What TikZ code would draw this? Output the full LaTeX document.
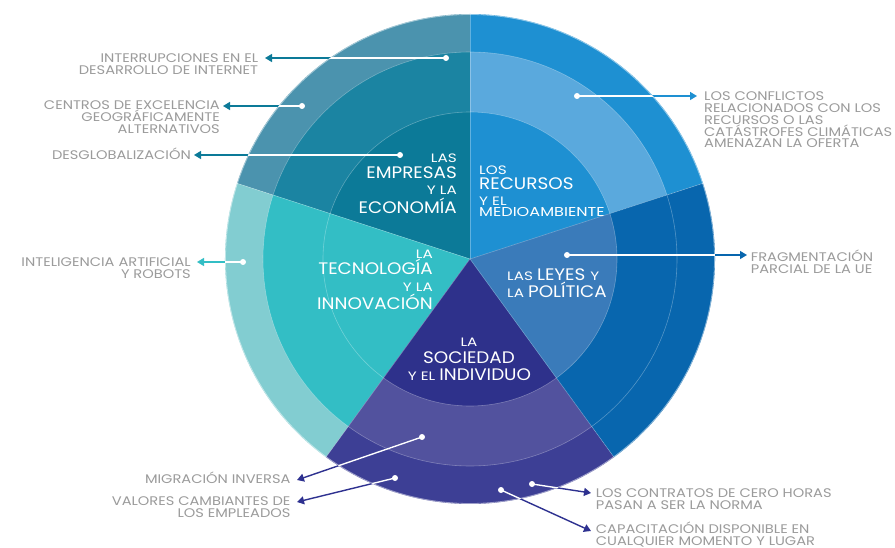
\documentclass[tikz,border=0pt]{standalone}
\usepackage{fontspec}
\setmainfont{Poppins}
\newfontfamily\lblfont[FakeStretch=1.17]{Poppins}
\newfontfamily\bigfont[FakeStretch=1.1]{Poppins}
\newfontfamily\smlfont[FakeStretch=1.25]{Poppins}
\usetikzlibrary{arrows.meta}
\definecolor{empA}{HTML}{0C7A98}
\definecolor{empB}{HTML}{1B84A2}
\definecolor{empC}{HTML}{4B93AE}
\definecolor{recA}{HTML}{1E90D2}
\definecolor{recB}{HTML}{5AA9DD}
\definecolor{leyA}{HTML}{3A7BBA}
\definecolor{leyB}{HTML}{0866AE}
\definecolor{socA}{HTML}{2E318B}
\definecolor{socB}{HTML}{52529E}
\definecolor{socC}{HTML}{3D3F95}
\definecolor{tecA}{HTML}{33BEC5}
\definecolor{tecC}{HTML}{82CDD1}
\definecolor{lblgray}{HTML}{9B9B9B}
\definecolor{arrNavy}{HTML}{2E3190}
\newcommand\rlines[1]{\vtop{\baselineskip=11.8pt\lineskiplimit=-50pt\lineskip=0pt\halign{\hfil##\cr#1\crcr}}}
\newcommand\llines[1]{\vtop{\baselineskip=11.8pt\lineskiplimit=-50pt\lineskip=0pt\halign{##\hfil\cr#1\crcr}}}
\newcommand\smf{\smlfont\fontsize{12.2}{13}\selectfont}
\newcommand\lgf{\bigfont\fontsize{16.7}{18}\selectfont}
\newcommand\sect[4]{\fill[#1] (0,0) -- (#2:#4) arc[start angle=#2,end angle=#3,radius=#4] -- cycle;}
\newcommand\conn[3]{%
  \draw[conn,#1] (#2) -- (#3);
  \begin{scope}\clip (C) circle[radius=245];\draw[white,line width=1.4pt] (#2) -- (#3);\end{scope}
  \fill[white] (#2) circle[radius=3];}
\begin{document}
\begin{tikzpicture}[x=1pt,y=1pt,
  lbl/.style={font=\lblfont\fontsize{12.5}{12}\selectfont, text=lblgray, inner sep=0pt},
  ctr/.style={text=white, inner sep=0pt},
  conn/.style={line width=1.4pt, -{Triangle[length=7pt,width=8pt]}},
  ring/.style={white, opacity=0.3, line width=0.6pt},
  rim/.style={white, opacity=0.5, line width=0.8pt}]
\fill[white] (0,0) rectangle (895,-548);
\useasboundingbox (0,0) rectangle (895,-548);
\coordinate (C) at (470,-259);
\begin{scope}[shift={(470,-259)}]
  \sect{empC}{90}{162}{245}\sect{empB}{90}{162}{207}\sect{empA}{90}{162}{147}
  \sect{recA}{18}{90}{245}\sect{recB}{18}{90}{207}\sect{recA}{18}{90}{147}
  \sect{tecC}{162}{234}{245}\sect{tecA}{162}{234}{207}
  \sect{socC}{234}{306}{245}\sect{socB}{234}{306}{207}\sect{socA}{234}{306}{147}
  \sect{leyB}{-54}{18}{245}\sect{leyA}{-54}{18}{147}
  \draw[ring] (0,0) circle[radius=147] (0,0) circle[radius=207];
  \foreach \a in {18,90,162,234,306} \draw[ring] (0,0) -- (\a:245);
  \draw[rim] (0,0) circle[radius=244.5];
\end{scope}
% centre labels
\node[ctr, anchor=base east] (e1) at (457,-162.7) {\smf LAS};
\node[ctr, anchor=base east] (e2) at (457,-179) {\lgf EMPRESAS};
\node[ctr, anchor=base east] (e3) at (457,-195) {\smf Y LA};
\node[ctr, anchor=base east] (e4) at (457,-213.3) {\lgf ECONOMÍA};
\node[ctr, anchor=base west] (r1) at (479,-175) {\smf LOS};
\node[ctr, anchor=base west] (r2) at (479,-190) {\lgf RECURSOS};
\node[ctr, anchor=base west] (r3) at (479,-205.5) {\smf Y EL};
\node[ctr, anchor=base west] (r4) at (479,-216.7) {\smlfont\fontsize{12.9}{14}\selectfont MEDIOAMBIENTE};
\node[ctr, anchor=base east] (t1) at (433,-258.3) {\smf LA};
\node[ctr, anchor=base east] (t2) at (433,-275) {\lgf TECNOLOGÍA};
\node[ctr, anchor=base east] (t3) at (433,-291.7) {\smf Y LA};
\node[ctr, anchor=base east] (t4) at (433,-309) {\lgf INNOVACIÓN};
\node[ctr, anchor=base west] (l1) at (507,-280.7) {\smf LAS \lgf LEYES \smf Y};
\node[ctr, anchor=base west] (l2) at (507,-297.3) {\smf LA \lgf POLÍTICA};
\node[ctr, anchor=base] (s1) at (469,-346) {\smf LA};
\node[ctr, anchor=base] (s2) at (469,-363.3) {\lgf SOCIEDAD};
\node[ctr, anchor=base] (s3) at (469.5,-380) {\smf Y EL \lgf INDIVIDUO};
% outer labels
\node[lbl, anchor=base east] (g1) at (258.3,-62.3) {\rlines{INTERRUPCIONES EN EL\cr DESARROLLO DE INTERNET}};
\node[lbl, anchor=base east] (g2) at (220,-110) {\rlines{CENTROS DE EXCELENCIA\cr GEOGRÁFICAMENTE\cr ALTERNATIVOS}};
\node[lbl, anchor=base east] (g3) at (191,-160) {\rlines{DESGLOBALIZACIÓN}};
\node[lbl, anchor=base west] (g4) at (704,-100.7) {\llines{LOS CONFLICTOS\cr RELACIONADOS CON LOS\cr RECURSOS O LAS\cr CATÁSTROFES CLIMÁTICAS\cr AMENAZAN LA OFERTA}};
\node[lbl, anchor=base west] (g5) at (750.7,-261.7) {\llines{FRAGMENTACIÓN\cr PARCIAL DE LA UE}};
\node[lbl, anchor=base east] (g6) at (191,-266.5) {\rlines{INTELIGENCIA ARTIFICIAL\cr Y ROBOTS}};
\node[lbl, anchor=base east] (g7) at (290.7,-483.3) {\rlines{MIGRACIÓN INVERSA}};
\node[lbl, anchor=base east] (g8) at (290.7,-505.7) {\rlines{VALORES CAMBIANTES DE\cr LOS EMPLEADOS}};
\node[lbl, anchor=base west] (g9) at (595.7,-497.7) {\llines{LOS CONTRATOS DE CERO HORAS\cr PASAN A SER LA NORMA}};
\node[lbl, anchor=base west] (g10) at (595.7,-533.2) {\llines{CAPACITACIÓN DISPONIBLE EN\cr CUALQUIER MOMENTO Y LUGAR}};
% connector ends
\coordinate (d1) at (446,-58);   \coordinate (a1) at (265,-58);
\coordinate (d2) at (302,-106);  \coordinate (a2) at (223,-106);
\coordinate (d3) at (400,-155);  \coordinate (a3) at (194,-155);
\coordinate (d4) at (577,-96);   \coordinate (a4) at (697,-96);
\coordinate (d5) at (567,-255);  \coordinate (a5) at (747,-255);
\coordinate (d6) at (243,-262);  \coordinate (a6) at (197,-262);
\coordinate (d7) at (422,-437);  \coordinate (a7) at (297,-480);
\coordinate (d8) at (395,-478);  \coordinate (a8) at (297,-502);
\coordinate (d9) at (532,-484);  \coordinate (a9) at (591,-493);
\coordinate (d10) at (501,-490); \coordinate (a10) at (591,-531);
\conn{empA}{d1}{a1}
\conn{empA}{d2}{a2}
\conn{empA}{d3}{a3}
\conn{recA}{d4}{a4}
\conn{leyB}{d5}{a5}
\conn{tecA}{d6}{a6}
\conn{arrNavy}{d7}{a7}
\conn{arrNavy}{d8}{a8}
\conn{arrNavy}{d9}{a9}
\conn{arrNavy}{d10}{a10}
\end{tikzpicture}
\end{document}
